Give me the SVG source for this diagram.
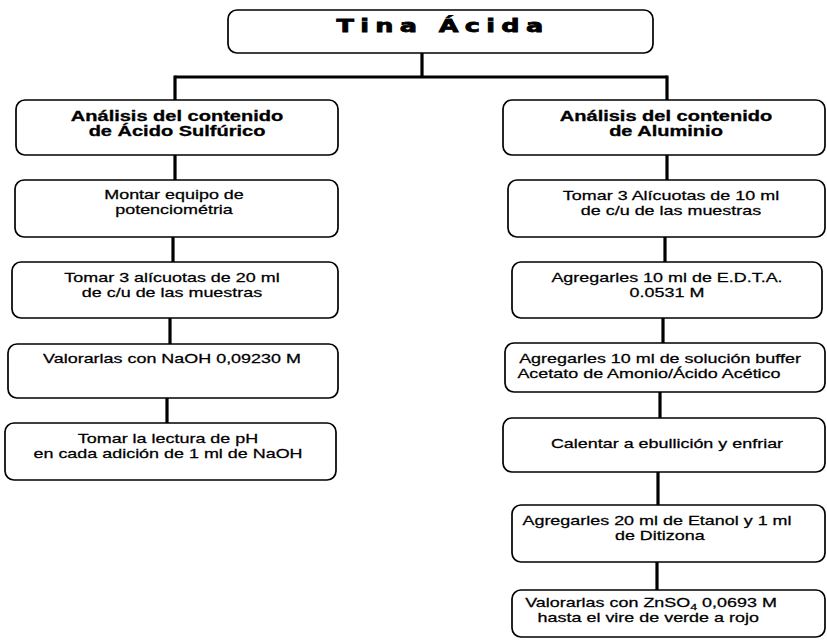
<svg xmlns="http://www.w3.org/2000/svg" width="827" height="643" viewBox="0 0 827 643">
<style>
.box{fill:#fff;stroke:#000;stroke-width:1.7}
.conn{stroke:#000;stroke-width:3.2;fill:none}
.t{font-family:"Liberation Sans",Arial,sans-serif;font-size:13px;text-anchor:middle;fill:#000;stroke:#000;stroke-width:0.25}
.h{font-weight:bold;font-size:14.5px;stroke-width:0.3}
.title{font-family:"DejaVu Sans","Liberation Sans",sans-serif;font-weight:bold;font-size:18.5px;letter-spacing:4.6px;stroke-width:0.8}
</style>
<rect width="827" height="643" fill="#fff"/>
<g id="connectors">
<line class="conn" x1="422" y1="53" x2="422" y2="77"/>
<line class="conn" x1="175" y1="77" x2="667" y2="77"/>
<line class="conn" x1="175" y1="75.5" x2="175" y2="100"/>
<line class="conn" x1="667" y1="75.5" x2="667" y2="100"/>
<line class="conn" x1="175" y1="155" x2="175" y2="180"/>
<line class="conn" x1="173" y1="237" x2="173" y2="262"/>
<line class="conn" x1="170" y1="318" x2="170" y2="344"/>
<line class="conn" x1="167" y1="398" x2="167" y2="423"/>
<line class="conn" x1="667" y1="155" x2="667" y2="180"/>
<line class="conn" x1="665" y1="237" x2="665" y2="262"/>
<line class="conn" x1="663" y1="318" x2="663" y2="343"/>
<line class="conn" x1="660" y1="392" x2="660" y2="418"/>
<line class="conn" x1="658" y1="472" x2="658" y2="505"/>
<line class="conn" x1="657" y1="562" x2="657" y2="590"/>
</g>
<g id="title">
<rect class="box" x="228" y="10" width="425" height="43" rx="9"/>
<text class="t title" transform="translate(443 0) scale(1.38 1)" x="0" y="32">Tina Ácida</text>
</g>
<g id="left-header">
<rect class="box" x="16" y="100" width="322" height="55" rx="9"/>
<text class="t h" transform="translate(177 0) scale(1.38 1)"><tspan x="0" y="121">Análisis del contenido</tspan><tspan x="0" y="136">de Ácido Sulfúrico</tspan></text>
</g>
<g id="left-1">
<rect class="box" x="15" y="180" width="323" height="57" rx="9"/>
<text class="t" transform="translate(174 0) scale(1.38 1)"><tspan x="0" y="199">Montar equipo de</tspan><tspan x="0" y="214">potenciométria</tspan></text>
</g>
<g id="left-2">
<rect class="box" x="12" y="262" width="326" height="56" rx="9"/>
<text class="t" transform="translate(172 0) scale(1.38 1)"><tspan x="0" y="282">Tomar 3 alícuotas de 20 ml</tspan><tspan x="0" y="297">de c/u de las muestras</tspan></text>
</g>
<g id="left-3">
<rect class="box" x="8" y="344" width="330" height="54" rx="9"/>
<text class="t" transform="translate(172 0) scale(1.38 1)" x="0" y="363">Valorarlas con NaOH 0,09230 M</text>
</g>
<g id="left-4">
<rect class="box" x="5" y="423" width="331" height="57" rx="9"/>
<text class="t" transform="translate(168 0) scale(1.38 1)"><tspan x="0" y="443">Tomar la lectura de pH</tspan><tspan x="0" y="458">en cada adición de 1 ml de NaOH</tspan></text>
</g>
<g id="right-header">
<rect class="box" x="503" y="100" width="322" height="55" rx="9"/>
<text class="t h" transform="translate(666 0) scale(1.38 1)"><tspan x="0" y="121">Análisis del contenido</tspan><tspan x="0" y="136">de Aluminio</tspan></text>
</g>
<g id="right-1">
<rect class="box" x="508" y="180" width="317" height="57" rx="9"/>
<text class="t" transform="translate(671 0) scale(1.38 1)"><tspan x="0" y="200">Tomar 3 Alícuotas de 10 ml</tspan><tspan x="0" y="215">de c/u de las muestras</tspan></text>
</g>
<g id="right-2">
<rect class="box" x="512" y="262" width="310" height="56" rx="9"/>
<text class="t" transform="translate(667 0) scale(1.38 1)"><tspan x="0" y="282">Agregarles 10 ml de E.D.T.A.</tspan><tspan x="0" y="297">0.0531 M</tspan></text>
</g>
<g id="right-3">
<rect class="box" x="505" y="343" width="320" height="49" rx="9"/>
<text class="t" transform="translate(660 0) scale(1.38 1)"><tspan x="0" y="363">Agregarles 10 ml de solución buffer</tspan><tspan x="-8" y="378">Acetato de Amonio/Ácido Acético</tspan></text>
</g>
<g id="right-4">
<rect class="box" x="503" y="418" width="322" height="54" rx="9"/>
<text class="t" transform="translate(667 0) scale(1.38 1)" x="0" y="448">Calentar a ebullición y enfriar</text>
</g>
<g id="right-5">
<rect class="box" x="512" y="505" width="313" height="57" rx="9"/>
<text class="t" transform="translate(657 0) scale(1.38 1)"><tspan x="0" y="525">Agregarles 20 ml de Etanol y 1 ml</tspan><tspan x="2" y="540">de Ditizona</tspan></text>
</g>
<g id="right-6">
<rect class="box" x="512" y="590" width="313" height="47" rx="9"/>
<text class="t" transform="translate(651 0) scale(1.38 1)"><tspan x="0" y="607">Valorarlas con ZnSO<tspan font-size="9" dy="3">4</tspan><tspan dy="-3"> 0,0693 M</tspan></tspan><tspan x="-2" y="622">hasta el vire de verde a rojo</tspan></text>
</g>
</svg>
